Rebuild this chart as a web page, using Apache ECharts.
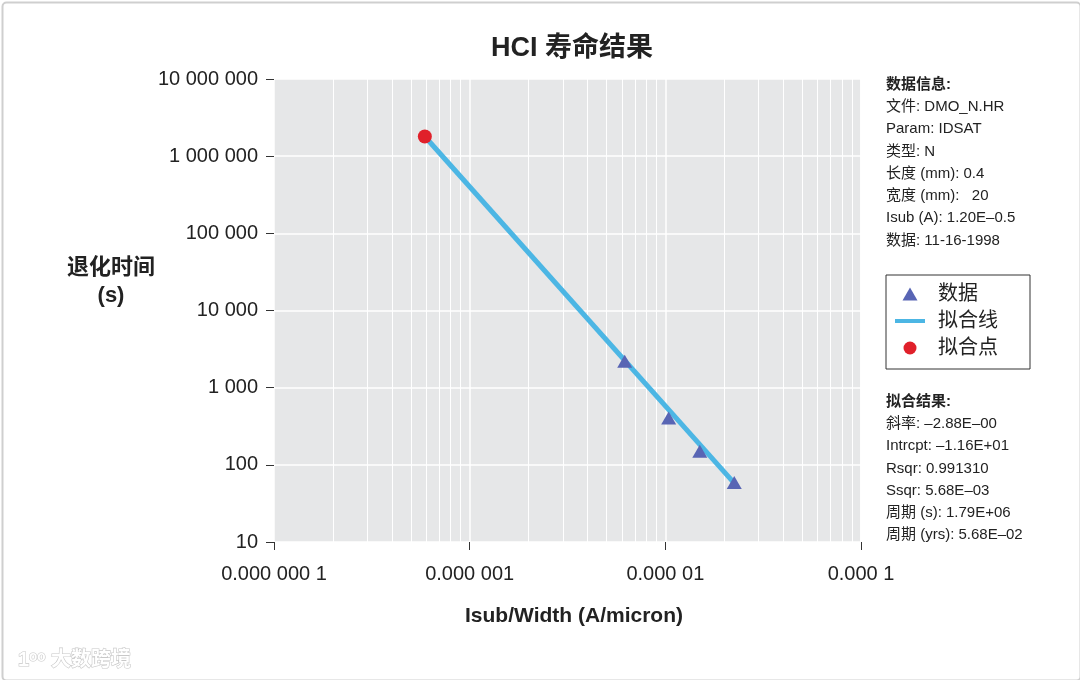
<!DOCTYPE html>
<html>
<head>
<meta charset="utf-8">
<script src="https://cdn.jsdelivr.net/npm/echarts@6/dist/echarts.min.js"></script>
<style>
  html, body { margin: 0; padding: 0; background: #fff; }
  #chart { width: 1080px; height: 680px; }
</style>
</head>
<body>
<div id="chart"></div>
<script>
// ---- data ----
const dataPoints = [[6.2e-6, 2200], [1.04e-5, 405], [1.5e-5, 150], [2.25e-5, 59]];
const fitLine = [[5.9e-7, 1.8e6], [2.25e-5, 58]];
const fitPoint = [[5.9e-7, 1.8e6]];
const xTickLabels = ['0.000 000 1', '0.000 001', '0.000 01', '0.000 1'];
const yTickLabels = ['10', '100', '1 000', '10 000', '100 000', '1 000 000', '10 000 000'];
const seriesNames = ['数据', '拟合线', '拟合点'];
const titleText = 'HCI 寿命结果';
const xName = 'Isub/Width (A/micron)';
const yNameLines = ['退化时间', '(s)'];
const infoTitle = '数据信息:';
const infoLines = ['文件: DMO_N.HR', 'Param: IDSAT', '类型: N', '长度 (mm): 0.4', '宽度 (mm):   20', 'Isub (A): 1.20E\u20130.5', '数据: 11-16-1998'];
const fitTitle = '拟合结果:';
const fitLines = ['斜率: \u20132.88E\u201300', 'Intrcpt: \u20131.16E+01', 'Rsqr: 0.991310', 'Ssqr: 5.68E\u201303', '周期 (s): 1.79E+06', '周期 (yrs): 5.68E\u201302'];

const FONT = '"Liberation Sans", "Noto Sans CJK SC", sans-serif';
const chart = echarts.init(document.getElementById('chart'));

function textBlock(title, lines, x, y0, step) {
  const els = [{
    type: 'text', left: x, top: y0 - 9,
    style: { text: title, font: 'bold 15px ' + FONT, fill: '#222' }
  }];
  lines.forEach((t, i) => {
    els.push({
      type: 'text', left: x, top: y0 - 9 + (i + 1) * step,
      style: { text: t, font: '15px ' + FONT, fill: '#222' }
    });
  });
  return els;
}

const graphics = [
  { type: 'rect', left: 0, top: 0, shape: { x: 1, y: 1, width: 1078, height: 678, r: 4 },
    style: { fill: 'none', stroke: '#cfcfcf', lineWidth: 2 }, silent: true, z: -10 },
  { type: 'text', x: 111, y: 282,
    style: { text: yNameLines.join('\n'), font: 'bold 22px ' + FONT, fill: '#222',
             align: 'center', verticalAlign: 'middle', lineHeight: 28 } },
  { type: 'text', x: 18, y: 660,
    style: { text: '1\u1D52\u1D52 大数跨境', font: 'bold 20px ' + FONT, fill: '#fff',
             stroke: '#c8c8c8', lineWidth: 1.2, verticalAlign: 'middle' } }
].concat(textBlock(infoTitle, infoLines, 886, 86, 22.3))
 .concat(textBlock(fitTitle, fitLines, 886, 403, 22.3));

chart.setOption({
  animation: false,
  title: {
    text: titleText, left: 567, top: 30, textAlign: 'center',
    textStyle: { fontFamily: FONT, fontSize: 27, fontWeight: 'bold', color: '#222' }
  },
  grid: {
    left: 274, right: 219, top: 79, bottom: 138,
    show: true, backgroundColor: '#e6e7e8', borderWidth: 0
  },
  legend: {
    left: 886, top: 275, orient: 'vertical',
    padding: [9, 32, 11, 9],
    itemWidth: 30, itemHeight: 13, itemGap: 7,
    borderColor: '#333', borderWidth: 1,
    textStyle: { fontFamily: FONT, fontSize: 20, color: '#222', lineHeight: 20, padding: [0, 0, 0, 8] },
    data: [
      { name: seriesNames[0], icon: 'path://M7.5,0 L15,13 L0,13 Z' },
      { name: seriesNames[1], icon: 'path://M0,0 L30,0 L30,4 L0,4 Z' },
      { name: seriesNames[2], icon: 'circle' }
    ]
  },
  xAxis: {
    type: 'log', logBase: 10, min: 1e-7, max: 1e-4, interval: 1,
    name: xName, nameLocation: 'middle', nameGap: 64,
    nameTextStyle: { fontFamily: FONT, fontSize: 21, fontWeight: 'bold', color: '#222', padding: [0, 0, 0, 13] },
    axisLine: { show: false },
    axisTick: { show: true, length: 8, lineStyle: { color: '#333', width: 1 } },
    axisLabel: {
      margin: 22, fontFamily: FONT, fontSize: 20, color: '#222',
      formatter: (v, i) => xTickLabels[i]
    },
    splitLine: { show: true, lineStyle: { color: '#ffffff', width: 1.5 } },
    minorTick: { show: false, splitNumber: 9 },
    minorSplitLine: { show: true, lineStyle: { color: '#ffffff', width: 1 } }
  },
  yAxis: {
    type: 'log', logBase: 10, min: 10, max: 1e7, interval: 1,
    axisLine: { show: false },
    axisTick: { show: true, length: 8, lineStyle: { color: '#333', width: 1 } },
    axisLabel: {
      margin: 16, fontFamily: FONT, fontSize: 20, color: '#222',
      formatter: (v, i) => yTickLabels[i]
    },
    splitLine: { show: true, lineStyle: { color: '#ffffff', width: 1.5 } }
  },
  series: [
    {
      name: seriesNames[1], type: 'line', data: fitLine, symbol: 'none',
      lineStyle: { color: '#4cb6e4', width: 5 }, itemStyle: { color: '#4cb6e4' }, z: 2
    },
    {
      name: seriesNames[0], type: 'scatter', data: dataPoints, symbol: 'triangle',
      symbolSize: [15, 13], itemStyle: { color: '#5865b4', opacity: 1 }, z: 3
    },
    {
      name: seriesNames[2], type: 'scatter', data: fitPoint, symbol: 'circle',
      symbolSize: 14, itemStyle: { color: '#e0202a', opacity: 1 }, z: 4
    }
  ],
  graphic: graphics
});
</script>
</body>
</html>
